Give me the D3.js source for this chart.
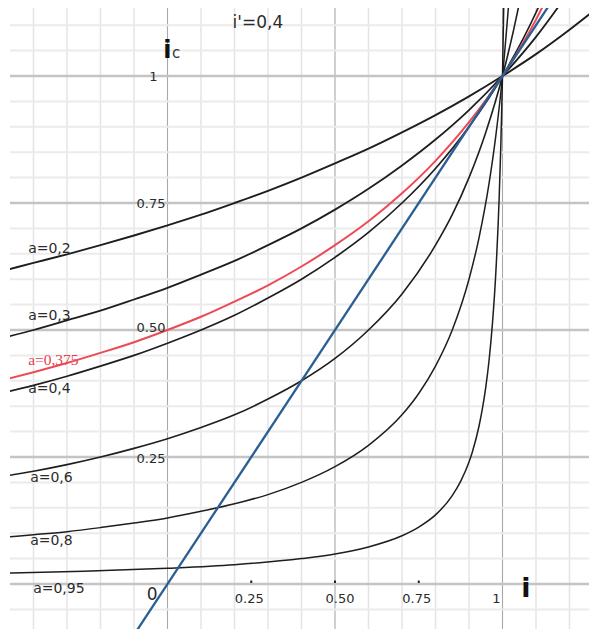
<!DOCTYPE html>
<html>
<head>
<meta charset="utf-8">
<script src="https://cdn.jsdelivr.net/npm/d3@7"></script>
<style>
  html, body { margin: 0; padding: 0; background: #fff; }
  svg { display: block; }
</style>
</head>
<body>
<div id="chart"></div>
<script>
// ---------- data ----------
const iPrime = "i'=0,4";
const curveNames = ["a=0,2", "a=0,3", "a=0,375", "a=0,4", "a=0,6", "a=0,8", "a=0,95"];

const i_a02  = [-0.5,-0.4,-0.3,-0.2,-0.1,0,0.1,0.2,0.3,0.4,0.5,0.6,0.7,0.8,0.9,1,1.1,1.2,1.3];
const ic_a02 = [0.615,0.632,0.649,0.667,0.686,0.706,0.727,0.750,0.774,0.800,0.828,0.857,0.889,0.923,0.960,1,1.043,1.091,1.143];

const i_a03  = [-0.5,-0.4,-0.3,-0.2,-0.1,0,0.1,0.2,0.3,0.4,0.5,0.6,0.7,0.8,0.9,1,1.1,1.2];
const ic_a03 = [0.483,0.500,0.519,0.538,0.560,0.583,0.609,0.636,0.667,0.700,0.737,0.778,0.824,0.875,0.933,1,1.077,1.167];

const i_a0375  = [-0.5,-0.4,-0.3,-0.2,-0.1,0,0.1,0.2,0.3,0.4,0.5,0.6,0.7,0.8,0.9,1,1.1,1.2];
const ic_a0375 = [0.400,0.417,0.435,0.455,0.476,0.500,0.526,0.556,0.588,0.625,0.667,0.714,0.769,0.833,0.909,1,1.111,1.250];

const i_a04  = [-0.5,-0.4,-0.3,-0.2,-0.1,0,0.1,0.2,0.3,0.4,0.5,0.6,0.7,0.8,0.9,1,1.1,1.2];
const ic_a04 = [0.375,0.391,0.409,0.429,0.450,0.474,0.500,0.529,0.563,0.600,0.643,0.692,0.750,0.818,0.900,1,1.125,1.286];

const i_a06  = [-0.5,-0.4,-0.3,-0.2,-0.1,0,0.1,0.2,0.3,0.4,0.5,0.6,0.7,0.8,0.85,0.9,0.95,1,1.05,1.1];
const ic_a06 = [0.211,0.222,0.235,0.250,0.267,0.286,0.308,0.333,0.364,0.400,0.444,0.500,0.571,0.667,0.727,0.800,0.889,1,1.143,1.333];

const i_a08  = [-0.5,-0.4,-0.3,-0.2,-0.1,0,0.1,0.2,0.3,0.4,0.5,0.6,0.7,0.75,0.8,0.85,0.9,0.93,0.96,0.98,1,1.02];
const ic_a08 = [0.091,0.097,0.103,0.111,0.120,0.130,0.143,0.158,0.176,0.200,0.231,0.273,0.333,0.375,0.429,0.500,0.600,0.682,0.789,0.882,1,1.154];

const i_a095  = [-0.5,-0.25,0,0.2,0.4,0.5,0.6,0.7,0.75,0.8,0.85,0.875,0.9,0.91,0.93,0.94,0.95,0.96,0.97,0.98,0.99,0.995,1,1.005];
const ic_a095 = [0.021,0.025,0.031,0.038,0.050,0.059,0.073,0.095,0.112,0.136,0.174,0.202,0.240,0.260,0.311,0.345,0.387,0.441,0.513,0.612,0.759,0.863,1,1.187];

const i_blue  = [-0.2, 1.2];
const ic_blue = [-0.2, 1.2];

const yTickVals   = [1, 0.75, 0.5, 0.25, 0];
const yTickLabels = ["1", "0.75", "0.50", "0.25", "0"];
const xTickVals   = [0.25, 0.5, 0.75, 1];
const xTickLabels = ["0.25", "0.50", "0.75", "1"];

// ---------- drawing ----------
const W = 589, H = 629;
const svg = d3.select("#chart").append("svg").attr("width", W).attr("height", H);

const x = d3.scaleLinear().domain([0, 1]).range([167.5, 502.5]);
const y = d3.scaleLinear().domain([0, 1]).range([584, 76]);

const plotLeft = 10, plotTop = 8;

svg.append("defs").append("clipPath").attr("id", "clip")
  .append("rect").attr("x", plotLeft).attr("y", plotTop)
  .attr("width", W - plotLeft).attr("height", H - plotTop);

// grid
const gGrid = svg.append("g");
d3.range(-4, 13).forEach(k => {
  const v = k / 10;
  const major = (k % 5 === 0);
  gGrid.append("line")
    .attr("x1", x(v)).attr("x2", x(v)).attr("y1", plotTop).attr("y2", H)
    .attr("stroke", major ? "#a8a8a8" : "#e4e4e4")
    .attr("stroke-width", major ? 1.1 : 1.5);
});
d3.range(-1, 23).forEach(k => {
  const v = k * 0.05;
  const major = (k % 5 === 0);
  gGrid.append("line")
    .attr("x1", plotLeft).attr("x2", W).attr("y1", y(v)).attr("y2", y(v))
    .attr("stroke", major ? "#c4c4c4" : "#ebebeb")
    .attr("stroke-width", major ? 2.4 : 2);
});

// tick dots on the i axis
xTickVals.slice(0, 3).forEach(v => {
  svg.append("rect").attr("x", x(v) - 1).attr("y", y(0) - 3.5).attr("width", 2).attr("height", 2.5).attr("fill", "#222");
});

const line = d3.line().x(d => x(d[0])).y(d => y(d[1])).curve(d3.curveMonotoneX);
const zip = (a, b) => a.map((v, k) => [v, b[k]]);

const gCurves = svg.append("g").attr("clip-path", "url(#clip)");
const blackSeries = [
  [i_a02, ic_a02, 1.9],
  [i_a03, ic_a03, 1.8],
  [i_a04, ic_a04, 1.7],
  [i_a06, ic_a06, 1.6],
  [i_a08, ic_a08, 1.5],
  [i_a095, ic_a095, 1.5]
];
blackSeries.forEach(s => {
  gCurves.append("path").datum(zip(s[0], s[1]))
    .attr("d", line).attr("fill", "none")
    .attr("stroke", "#1e1e1e").attr("stroke-width", s[2]);
});
gCurves.append("path").datum(zip(i_a0375, ic_a0375))
  .attr("d", line).attr("fill", "none")
  .attr("stroke", "#ee4a55").attr("stroke-width", 2);
gCurves.append("path").datum(zip(i_blue, ic_blue))
  .attr("d", d3.line().x(d => x(d[0])).y(d => y(d[1])))
  .attr("fill", "none").attr("stroke", "#2b5e92").attr("stroke-width", 2.3);

// text
const txt = "#2b2b2b";
const font = "DejaVu Sans, Lucida Grande, sans-serif";

svg.append("text").attr("x", x(0.27)).attr("y", 28).attr("text-anchor", "middle")
  .attr("font-family", font).attr("font-size", 17).attr("fill", txt).text(iPrime);

// ic axis title
const icT = svg.append("text").attr("x", x(-0.013)).attr("y", 58)
  .attr("font-family", font).attr("fill", "#111");
icT.append("tspan").attr("font-size", 24).attr("font-weight", "bold").text("i");
icT.append("tspan").attr("font-size", 15).attr("dx", 0.5).attr("fill", "#333").text("c");

// i axis title
svg.append("text").attr("x", x(1.07)).attr("y", 597).attr("text-anchor", "middle")
  .attr("font-family", font).attr("font-size", 27).attr("font-weight", "bold").attr("fill", "#111").text("i");

// y tick labels
const yOffsets = [5, 5, 2, 6, 16];
yTickVals.forEach((v, k) => {
  const isZero = v === 0;
  svg.append("text")
    .attr("x", isZero || v === 1 ? x(0) - 10 : x(0) - 2)
    .attr("y", y(v) + yOffsets[k])
    .attr("text-anchor", "end")
    .attr("font-family", font)
    .attr("font-size", isZero ? 17 : 13)
    .attr("fill", txt).text(yTickLabels[k]);
});

// x tick labels
const xDx = [-2, 5, -2, -6];
xTickVals.forEach((v, k) => {
  svg.append("text").attr("x", x(v) + xDx[k]).attr("y", 603)
    .attr("text-anchor", "middle").attr("font-family", font).attr("font-size", 13)
    .attr("fill", txt).text(xTickLabels[k]);
});

// curve labels
const labelIc = [0.652, 0.520, 0.431, 0.376, 0.201, 0.077, -0.018];
const labelI  = [-0.416, -0.416, -0.416, -0.416, -0.41, -0.41, -0.401];
curveNames.forEach((n, k) => {
  const red = n === "a=0,375";
  svg.append("text").attr("x", x(labelI[k])).attr("y", y(labelIc[k]))
    .attr("font-family", red ? "Liberation Serif, Times New Roman, serif" : font)
    .attr("font-size", red ? 15.5 : 14)
    .attr("fill", red ? "#e8424e" : txt).text(n);
});
</script>
</body>
</html>
